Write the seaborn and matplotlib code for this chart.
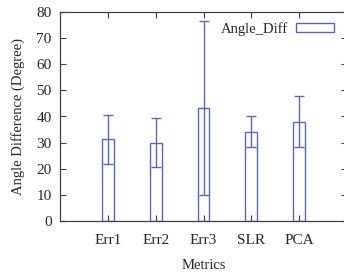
import numpy as np
import pandas as pd
import matplotlib
matplotlib.use("Agg")
import matplotlib.pyplot as plt
import seaborn as sns

# values
metrics = ["Err1", "Err2", "Err3", "SLR", "PCA"]
angle_diff = [31.3, 30.0, 43.3, 34.2, 38.0]
angle_err = [9.3, 9.3, 33.4, 5.8, 9.7]

blue = "#5a64c8"
gray = "#404040"

sns.set_theme(style="ticks")
plt.rcParams["font.family"] = ["Liberation Serif", "DejaVu Serif"]
plt.rcParams["font.size"] = 11

df = pd.DataFrame({"Metrics": metrics, "Angle_Diff": angle_diff})

fig = plt.figure(figsize=(3.44, 2.73), dpi=100)
ax = fig.add_axes([60 / 344, 52 / 273, 287 / 344, 209 / 273])

sns.barplot(data=df, x="Metrics", y="Angle_Diff", ax=ax, fill=False,
            color=blue, width=0.25, linewidth=1.0, errorbar=None,
            label="Angle_Diff")
for p in ax.patches:
    p.set_edgecolor(blue)
ax.errorbar(np.arange(len(metrics)), angle_diff, yerr=angle_err, fmt="none",
            ecolor=blue, elinewidth=1.0, capsize=3.5, capthick=1.0)

ax.set_xlim(-1, 5)
ax.set_ylim(0, 80)
ax.set_yticks(range(0, 81, 10))
ax.set_xlabel("Metrics", fontsize=10.5, labelpad=9)
ax.set_ylabel("Angle Difference (Degree)", fontsize=10.5, labelpad=8)
ax.tick_params(direction="in", length=4, width=0.8, color=gray,
               labelsize=11, top=True, right=True, pad=6)
ax.tick_params(axis="x", pad=9)
for s in ax.spines.values():
    s.set_color(gray)
    s.set_linewidth(0.9)

leg = ax.legend(loc="upper right", bbox_to_anchor=(344 / 347, 1.0),
                frameon=False, markerfirst=False, handlelength=2.6,
                handleheight=0.55, handletextpad=0.6, borderaxespad=0.3,
                fontsize=10.5)

fig.savefig("out.png", dpi=100)
